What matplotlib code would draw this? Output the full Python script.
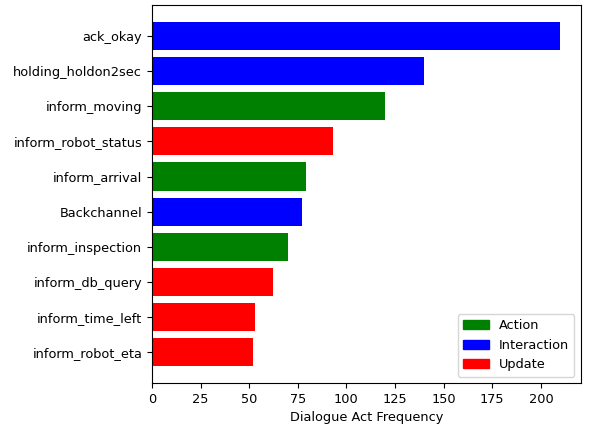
import matplotlib
matplotlib.use('Agg')
import matplotlib.pyplot as plt
from matplotlib.patches import Patch

plt.rcParams['font.size'] = 9.3

acts = ['ack_okay', 'holding_holdon2sec', 'inform_moving', 'inform_robot_status',
        'inform_arrival', 'Backchannel', 'inform_inspection', 'inform_db_query',
        'inform_time_left', 'inform_robot_eta']
freqs = [210, 140, 120, 93, 79, 77, 70, 62, 53, 52]
groups = ['Interaction', 'Interaction', 'Action', 'Update', 'Action',
          'Interaction', 'Action', 'Update', 'Update', 'Update']
group_colors = {'Action': 'green', 'Interaction': 'blue', 'Update': 'red'}

fig, ax = plt.subplots(figsize=(5.89, 4.26), dpi=100)
fig.subplots_adjust(left=0.258, right=0.986, top=0.988, bottom=0.101)

# reverse so the largest sits on top
ax.barh(acts[::-1], freqs[::-1], color=[group_colors[g] for g in groups[::-1]])
ax.set_xlabel('Dialogue Act Frequency')
ax.set_xticks(range(0, 201, 25))

handles = [Patch(color=group_colors[g], label=g) for g in ['Action', 'Interaction', 'Update']]
ax.legend(handles=handles, loc='lower right')

plt.savefig('out.png', dpi=100)
